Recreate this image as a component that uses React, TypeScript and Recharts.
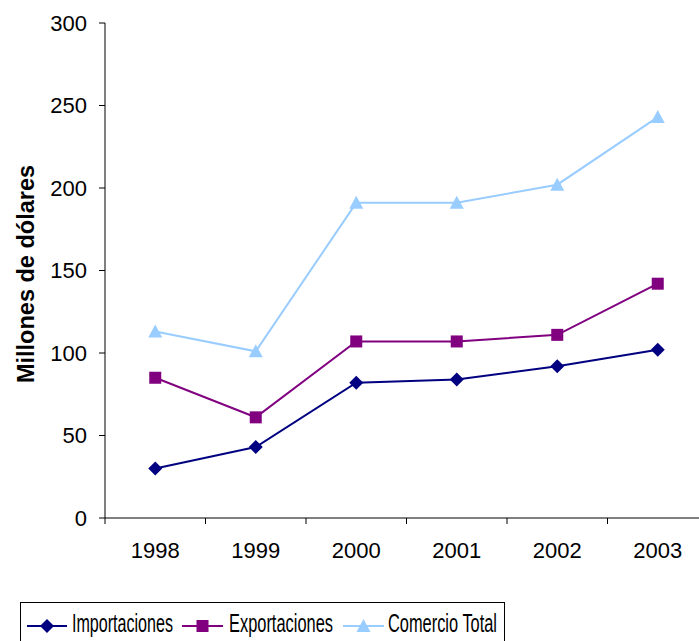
import { LineChart, Line, XAxis, YAxis } from 'recharts';

const years = ['1998', '1999', '2000', '2001', '2002', '2003'];
const importaciones = [30, 43, 82, 84, 92, 102];
const exportaciones = [85, 61, 107, 107, 111, 142];
const comercioTotal = [113, 101, 191, 191, 202, 243];
const yTicks = [0, 50, 100, 150, 200, 250, 300];

const seriesNames = ['Importaciones', 'Exportaciones', 'Comercio Total'];
const seriesColors = ['#000080', '#800080', '#99CCFF'];

// numeric x so the tick marks can sit between the years
const data = years.map((year, i) => ({
    x: i + 0.5,
    year,
    imp: importaciones[i],
    exp: exportaciones[i],
    tot: comercioTotal[i],
}));
const xTicks = Array.from({ length: years.length * 2 + 1 }, (_, i) => i / 2);

const FONT = '"Liberation Sans", Arial, sans-serif';

function Diamond({ cx, cy, color }: { cx: number; cy: number; color: string }) {
    return <path d={`M${cx},${cy - 7} L${cx + 7},${cy} L${cx},${cy + 7} L${cx - 7},${cy} Z`} fill={color} />;
}

function Square({ cx, cy, color }: { cx: number; cy: number; color: string }) {
    return <rect x={cx - 6} y={cy - 6} width={12} height={12} fill={color} />;
}

function Triangle({ cx, cy, color }: { cx: number; cy: number; color: string }) {
    return <path d={`M${cx},${cy - 7} L${cx + 7},${cy + 6} L${cx - 7},${cy + 6} Z`} fill={color} />;
}

const markers = [Diamond, Square, Triangle];

function makeDot(idx: number) {
    const Marker = markers[idx];
    return (props: any) => {
        const { cx, cy, index } = props;
        if (cx == null || cy == null) return <g key={`d-${idx}-${index}`} />;
        return (
            <g key={`d-${idx}-${index}`}>
                <Marker cx={cx} cy={cy} color={seriesColors[idx]} />
            </g>
        );
    };
}

function XTick(props: any) {
    const { x, y, payload } = props;
    const v = payload.value as number;
    if (Number.isInteger(v)) {
        return <line x1={x} x2={x} y1={y - 6} y2={y} stroke="#000" strokeWidth={1} />;
    }
    const label = years[Math.floor(v)];
    return (
        <text x={x} y={y + 18} dy="0.71em" textAnchor="middle" fill="#000" fontSize={22} fontFamily={FONT}>
            {label}
        </text>
    );
}

const legendItems = [
    { line: [27, 67], text: 72, width: 101 },
    { line: [182, 223], text: 229, width: 104 },
    { line: [343, 384], text: 388, width: 109 },
];

function LegendBox() {
    return (
        <svg width={699} height={641} style={{ position: 'absolute', left: 0, top: 0, pointerEvents: 'none' }}>
            <rect x={20.5} y={602.5} width={484} height={60} fill="none" stroke="#000" strokeWidth={1} />
            {legendItems.map((it, i) => {
                const Marker = markers[i];
                const mid = (it.line[0] + it.line[1]) / 2;
                return (
                    <g key={seriesNames[i]}>
                        <line x1={it.line[0]} x2={it.line[1]} y1={626} y2={626} stroke={seriesColors[i]} strokeWidth={2} />
                        <Marker cx={mid} cy={626} color={seriesColors[i]} />
                        <text
                            x={it.text}
                            y={632}
                            fontSize={25}
                            fontFamily={FONT}
                            fill="#000"
                            textLength={it.width}
                            lengthAdjust="spacingAndGlyphs"
                        >
                            {seriesNames[i]}
                        </text>
                    </g>
                );
            })}
        </svg>
    );
}

export default function App() {
    return (
        <div
            style={{
                position: 'absolute',
                left: 0,
                top: 0,
                width: 699,
                height: 641,
                overflow: 'hidden',
                background: '#fff',
                fontFamily: FONT,
            }}
        >
            <LineChart width={720} height={641} data={data} margin={{ top: 23, right: 12, left: 0, bottom: 83 }}>
                <XAxis
                    dataKey="x"
                    type="number"
                    domain={[0, years.length]}
                    ticks={xTicks}
                    interval={0}
                    tick={<XTick />}
                    tickLine={false}
                    tickSize={6}
                    tickMargin={0}
                    height={40}
                    axisLine={{ stroke: '#000', strokeWidth: 1 }}
                />
                <YAxis
                    domain={[0, 300]}
                    ticks={yTicks}
                    interval={0}
                    width={105}
                    tickSize={6}
                    tickMargin={12}
                    axisLine={{ stroke: '#000', strokeWidth: 1 }}
                    tickLine={{ stroke: '#000', strokeWidth: 1 }}
                    tick={{ fill: '#000', fontSize: 22, fontFamily: FONT }}
                    label={{
                        content: () => (
                            <text
                                x={34}
                                y={274}
                                transform="rotate(-90, 34, 274)"
                                textAnchor="middle"
                                fontSize={23.5}
                                fontWeight="bold"
                                fontFamily={FONT}
                                fill="#000"
                            >
                                Millones de dólares
                            </text>
                        ),
                    }}
                />
                <Line
                    dataKey="tot"
                    name={seriesNames[2]}
                    stroke={seriesColors[2]}
                    strokeWidth={2}
                    dot={makeDot(2)}
                    activeDot={false}
                    isAnimationActive={false}
                />
                <Line
                    dataKey="exp"
                    name={seriesNames[1]}
                    stroke={seriesColors[1]}
                    strokeWidth={2}
                    dot={makeDot(1)}
                    activeDot={false}
                    isAnimationActive={false}
                />
                <Line
                    dataKey="imp"
                    name={seriesNames[0]}
                    stroke={seriesColors[0]}
                    strokeWidth={2}
                    dot={makeDot(0)}
                    activeDot={false}
                    isAnimationActive={false}
                />
            </LineChart>
            <LegendBox />
        </div>
    );
}
